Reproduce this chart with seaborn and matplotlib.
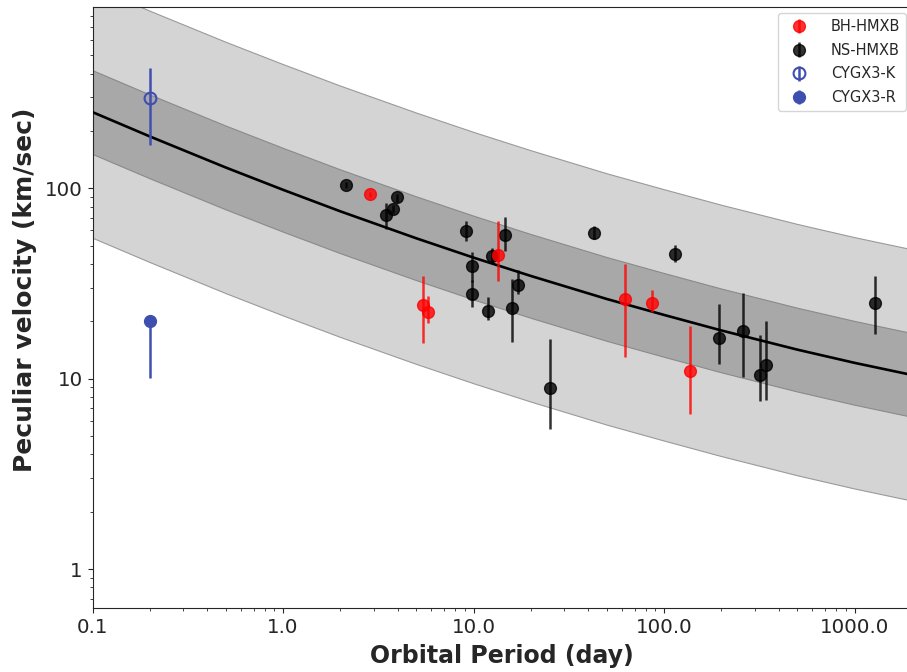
import numpy as np
import matplotlib
matplotlib.use("Agg")
import matplotlib.pyplot as plt
import matplotlib.ticker as mticker
import seaborn as sns
import pandas as pd

# fit curve (period in days, velocity in km/s)
fit_period = [0.1, 0.2, 0.5, 1.0, 2.0, 5.0, 10.0, 20.0, 50.0, 100.0, 200.0, 500.0, 1000.0, 2000.0]
fit_vel = [251, 187, 128.5, 98.1, 75.6, 54.6, 43.2, 34.6, 26.2, 21.6, 17.9, 14.2, 12.1, 10.45]
sigma_dex = 0.22       # inner band half width (dex)
sigma3_dex = 0.66      # outer band half width (dex)

# BH-HMXB
bh_period = [2.86, 5.42, 5.74, 13.4, 62.2, 86.1, 137]
bh_vel = [92.7, 24.5, 22.4, 44.7, 26.1, 25.0, 10.9]
bh_lo = [90.0, 15.4, 19.5, 32.6, 13.0, 22.4, 6.5]
bh_hi = [95.5, 34.7, 27.1, 67.4, 39.8, 29.2, 18.8]

# NS-HMXB
ns_period = [2.13, 3.47, 3.79, 3.97, 9.18, 9.80, 9.80, 11.9, 12.5, 14.7,
             15.9, 17.1, 25.1, 42.8, 114, 194, 258, 319, 342, 1285]
ns_vel = [104, 71.9, 77.8, 89.4, 59.4, 39.1, 27.9, 22.6, 44.2, 57.1,
          23.4, 31.0, 8.96, 58.5, 45.4, 16.3, 17.8, 10.4, 11.8, 25.0]
ns_lo = [100, 61, 74, 84.7, 52.9, 32, 23.8, 20.3, 40.7, 46.9,
         15.5, 27.7, 5.45, 54.4, 41.1, 12.0, 10.2, 7.6, 7.7, 17.1]
ns_hi = [108, 83.8, 82, 93.8, 67, 46.3, 33, 26.9, 48.8, 70.2,
         33.3, 37.1, 16.1, 63.4, 50.2, 24.8, 28, 16.9, 20.1, 34.8]

# Cyg X-3
cygk_period, cygk_vel, cygk_lo, cygk_hi = [0.2], [296], [169.5], [428]
cygr_period, cygr_vel, cygr_lo, cygr_hi = [0.2], [20.1], [10.1], [20.1]

sns.set_style("ticks")
plt.rcParams['font.family'] = ['DejaVu Sans']

fig = plt.figure(figsize=(9.07, 6.72), dpi=100)
ax = fig.add_axes([0.102, 0.0952, 0.9035, 0.8944])

fit = pd.DataFrame({"period": fit_period, "vel": fit_vel})
fp = np.array(fit_period)
fv = np.array(fit_vel)
ax.fill_between(fp, fv * 10**-sigma3_dex, fv * 10**sigma3_dex,
                facecolor="#d4d4d4", edgecolor="#9a9a9a", linewidth=0.8, zorder=1)
ax.fill_between(fp, fv * 10**-sigma_dex, fv * 10**sigma_dex,
                facecolor="#a8a8a8", edgecolor="#8a8a8a", linewidth=0.8, zorder=2)
sns.lineplot(data=fit, x="period", y="vel", color="black", linewidth=1.9, ax=ax, zorder=3)


def err(v, lo, hi):
    v = np.array(v)
    return [v - np.array(lo), np.array(hi) - v]


ms = 8.5
ax.errorbar(bh_period, bh_vel, yerr=err(bh_vel, bh_lo, bh_hi), fmt="o", color="red",
            ms=ms, elinewidth=1.8, alpha=0.8, label="BH-HMXB", zorder=5)
ax.errorbar(ns_period, ns_vel, yerr=err(ns_vel, ns_lo, ns_hi), fmt="o", color="black",
            ms=ms, elinewidth=1.8, alpha=0.8, label="NS-HMXB", zorder=4)
ax.errorbar(cygk_period, cygk_vel, yerr=err(cygk_vel, cygk_lo, cygk_hi), fmt="o",
            color="#3f4fb0", mfc="none", mew=1.5, ms=ms, elinewidth=1.8,
            label="CYGX3-K", zorder=5)
ax.errorbar(cygr_period, cygr_vel, yerr=err(cygr_vel, cygr_lo, cygr_hi), fmt="o",
            color="#3f4fb0", ms=ms, elinewidth=1.8, label="CYGX3-R", zorder=5)

ax.set_xscale("log")
ax.set_yscale("log")
ax.set_xlim(0.1, 2000)
ax.set_ylim(0.624, 895)
ax.set_xticks([0.1, 1, 10, 100, 1000], labels=["0.1", "1.0", "10.0", "100.0", "1000.0"])
ax.set_yticks([1, 10, 100], labels=["1", "10", "100"])
ax.xaxis.set_minor_formatter(mticker.NullFormatter())
ax.yaxis.set_minor_formatter(mticker.NullFormatter())
ax.tick_params(labelsize=14.3)
ax.set_xlabel("Orbital Period (day)", fontsize=17, fontweight="bold", labelpad=5)
ax.set_ylabel("Peculiar velocity (km/sec)", fontsize=18, fontweight="bold")
ax.yaxis.set_label_coords(-0.068, 0.53)

ax.legend(loc="upper right", fontsize=10.5, labelspacing=0.6, handletextpad=1.2,
          borderaxespad=0.42)

fig.savefig("out.png", dpi=100)
